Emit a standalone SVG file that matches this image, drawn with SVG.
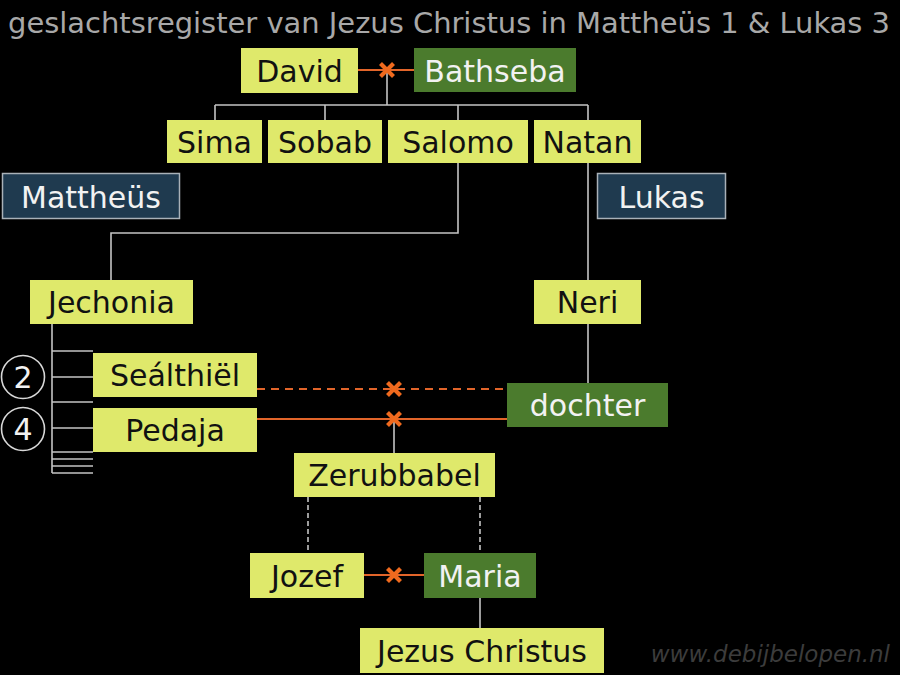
<svg xmlns="http://www.w3.org/2000/svg" xmlns:xlink="http://www.w3.org/1999/xlink" width="900" height="675" viewBox="0 0 900 675">
<style>
.lime{fill:#dfe96b}
.green{fill:#4b7b2d}
.navy{fill:#1f3a4f;stroke:#a9b1b8;stroke-width:1.5}
.t{font-family:"DejaVu Sans",Verdana,sans-serif;font-size:30px;text-anchor:middle}
.dark{fill:#111}
.light{fill:#f2f2f2}
.ln{stroke:#c4c4c4;stroke-width:1.6;fill:none}
.dash{stroke:#c4c4c4;stroke-width:1.6;fill:none;stroke-dasharray:5 3}
.or{stroke:#e2652a;stroke-width:2;fill:none}
.ord{stroke:#e2652a;stroke-width:2;fill:none;stroke-dasharray:8 6}
.xm{stroke:#f06a1e;stroke-width:4.2;fill:none;stroke-linecap:butt}
.circ{fill:none;stroke:#d8d8d8;stroke-width:1.6}
</style>
<defs>
<path id="x" class="xm" d="M-6.5,-6.5 L6.5,6.5 M6.5,-6.5 L-6.5,6.5"/>
</defs>
<rect width="900" height="675" fill="#000"/>
<text x="8" y="33" font-family="'DejaVu Sans Condensed','DejaVu Sans',Verdana,sans-serif" font-stretch="condensed" font-size="29" fill="#a8a8a8" textLength="882" lengthAdjust="spacingAndGlyphs">geslachtsregister van Jezus Christus in Mattheüs 1 &amp; Lukas 3</text>
<g id="connectors">
<path class="ln" d="M387,70 V105 M215,105 H588 M215,105 V120 M325,105 V120 M458,105 V120 M588,105 V120"/>
<path class="ln" d="M458,163 V233 H111 V280"/>
<path class="ln" d="M588,163 V280 M588,324 V383"/>
<path class="ln" d="M52,324 V473 M52,351 H93 M52,377 H93 M52,402 H93 M52,428 H93 M52,452 H93 M52,459 H93 M52,466 H93 M52,473 H93"/>
<path class="ln" d="M394,419 V453"/>
<path class="dash" d="M308,497 V553 M480,497 V553"/>
<path class="ln" d="M480,598 V628"/>
<path class="or" d="M358,70 H414"/>
<path class="ord" d="M257,389 H507"/>
<path class="or" d="M257,419 H507"/>
<path class="or" d="M364,575 H424"/>
<use xlink:href="#x" x="387" y="70"/>
<use xlink:href="#x" x="394" y="389"/>
<use xlink:href="#x" x="394" y="419"/>
<use xlink:href="#x" x="394" y="575"/>
</g>
<g id="david"><rect class="lime" x="241" y="48" width="117" height="45"/><text class="t dark" x="299.5" y="81.5">David</text></g>
<g id="bathseba"><rect class="green" x="414" y="48" width="162" height="44"/><text class="t light" x="495" y="81.5">Bathseba</text></g>
<g id="sima"><rect class="lime" x="167" y="120" width="95" height="43"/><text class="t dark" x="214.5" y="152.5">Sima</text></g>
<g id="sobab"><rect class="lime" x="268" y="120" width="114" height="43"/><text class="t dark" x="325" y="152.5">Sobab</text></g>
<g id="salomo"><rect class="lime" x="388" y="120" width="140" height="43"/><text class="t dark" x="458" y="152.5">Salomo</text></g>
<g id="natan"><rect class="lime" x="534" y="120" width="107" height="43"/><text class="t dark" x="587.5" y="152.5">Natan</text></g>
<g id="mattheus"><rect class="navy" x="2.5" y="173.5" width="177" height="45"/><text class="t light" x="91" y="207.5">Mattheüs</text></g>
<g id="lukas"><rect class="navy" x="597.5" y="173.5" width="128" height="45"/><text class="t light" x="661.5" y="207.5">Lukas</text></g>
<g id="jechonia"><rect class="lime" x="30" y="280" width="163" height="44"/><text class="t dark" x="111.5" y="313">Jechonia</text></g>
<g id="neri"><rect class="lime" x="534" y="280" width="107" height="44"/><text class="t dark" x="587.5" y="313">Neri</text></g>
<g id="c2"><circle class="circ" cx="23" cy="377" r="21.5"/><text class="t light" x="23" y="388">2</text></g>
<g id="c4"><circle class="circ" cx="23" cy="429" r="21.5"/><text class="t light" x="23" y="440">4</text></g>
<g id="sealthiel"><rect class="lime" x="93" y="353" width="164" height="44"/><text class="t dark" x="175" y="386">Seálthiël</text></g>
<g id="pedaja"><rect class="lime" x="93" y="408" width="164" height="44"/><text class="t dark" x="175" y="441">Pedaja</text></g>
<g id="dochter"><rect class="green" x="507" y="383" width="161" height="44"/><text class="t light" x="587.5" y="416">dochter</text></g>
<g id="zerubbabel"><rect class="lime" x="294" y="453" width="201" height="44"/><text class="t dark" x="394.5" y="486">Zerubbabel</text></g>
<g id="jozef"><rect class="lime" x="250" y="553" width="114" height="45"/><text class="t dark" x="307" y="586.5">Jozef</text></g>
<g id="maria"><rect class="green" x="424" y="553" width="112" height="45"/><text class="t light" x="480" y="586.5">Maria</text></g>
<g id="jezus"><rect class="lime" x="360" y="628" width="244" height="45"/><text class="t dark" x="482" y="661.5">Jezus Christus</text></g>
<text x="890" y="662" font-family="'DejaVu Sans',Verdana,sans-serif" font-size="23" font-style="italic" fill="#3c3c3c" text-anchor="end">www.debijbelopen.nl</text>
</svg>
